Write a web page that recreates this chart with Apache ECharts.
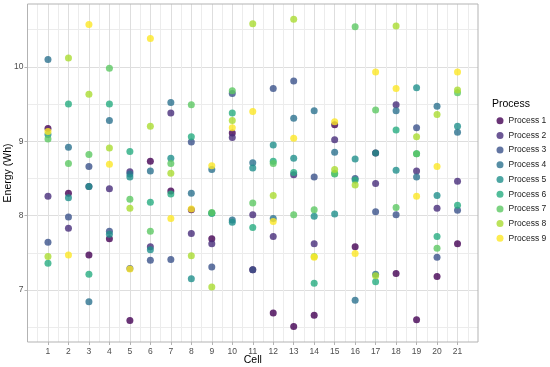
<!DOCTYPE html>
<html><head><meta charset="utf-8">
<script src="https://cdn.jsdelivr.net/npm/echarts@6/dist/echarts.min.js"></script>
<style>html,body{margin:0;padding:0;background:#fff}#c{width:550px;height:367px}</style>
</head><body><div id="c"></div>
<script>
// ---- data ----
const cells = [1,2,3,4,5,6,7,8,9,10,11,12,13,14,15,16,17,18,19,20,21];
const processNames = ['Process 1','Process 2','Process 3','Process 4','Process 5','Process 6','Process 7','Process 8','Process 9'];
const process1 = [9.17,8.30,7.47,7.69,6.59,8.73,8.33,8.08,7.69,9.11,7.27,6.69,6.51,6.66,9.22,7.58,8.84,7.22,6.60,7.18,7.62];
const process2 = [8.26,7.83,8.39,8.36,8.59,7.58,9.38,7.76,7.62,9.05,8.01,7.72,8.55,7.62,9.02,null,8.43,9.49,8.60,8.10,8.46];
const process3 = [7.64,7.98,8.66,7.79,7.29,7.40,7.41,8.99,7.31,9.64,7.27,9.71,9.81,8.52,null,8.50,8.05,8.01,9.18,7.44,8.07];
const process4 = [10.10,8.92,6.84,9.28,8.56,8.60,9.52,8.30,8.62,7.94,8.71,7.96,9.31,9.41,8.85,6.86,7.21,9.41,8.52,9.47,9.12];
const process5 = [9.09,8.24,8.39,7.75,8.52,7.54,8.77,7.15,8.03,7.91,8.64,8.95,8.77,7.99,8.02,8.76,8.84,8.61,9.72,8.27,9.20];
const process6 = [7.36,9.50,7.21,9.50,8.86,8.18,8.29,9.06,8.03,9.38,7.84,8.73,8.58,7.09,8.56,8.48,7.11,9.15,8.83,7.72,8.14];
const process7 = [9.03,8.70,8.82,9.98,8.22,7.79,8.70,9.49,8.04,9.68,8.17,8.70,8.01,8.08,8.57,10.54,9.42,8.11,8.83,7.56,9.65];
const process8 = [7.45,10.12,9.63,8.91,8.10,9.20,8.57,7.46,7.04,9.28,10.58,8.27,10.64,7.45,8.62,8.41,7.19,10.55,9.06,9.36,9.69];
const process9 = [9.13,7.47,10.57,8.69,7.28,10.38,7.96,8.09,8.67,9.18,9.40,7.92,9.04,7.44,9.26,7.49,9.93,9.71,8.26,8.66,9.93];
const yMajorTicks = ['7','8','9','10'];
const yMinorTicks = ['6.5','7.5','8.5','9.5','10.5'];
const xMinorTicks = ['0.5','1.5','2.5','3.5','4.5','5.5','6.5','7.5','8.5','9.5','10.5','11.5','12.5','13.5','14.5','15.5','16.5','17.5','18.5','19.5','20.5','21.5'];

// ---- layout ----
const colors = ['#440154','#472D7B','#3B528B','#2C728E','#21908C','#27AD81','#5DC863','#AADC32','#FDE725'];
const allSeries = [process1,process2,process3,process4,process5,process6,process7,process8,process9];
const W = 550, H = 367;
const PL = 27.5, PR = 478, PT = 4, PB = 342;
const XMIN = 0, XMAX = 22, YMIN = 6.30, YMAX = 10.845;
const px = v => PL + (v - XMIN) / (XMAX - XMIN) * (PR - PL);
const py = v => PT + (YMAX - v) / (YMAX - YMIN) * (PB - PT);
const FONT = '"Liberation Sans", Arial, sans-serif';
const GRID_MAJOR = '#dedede', GRID_MINOR = '#ececec', BORDER = '#b3b3b3', TXT = '#4d4d4d';

const hiddenVal = (gi) => ({type:'value', gridIndex: gi, min:0, max:1, show:false});

const chart = echarts.init(document.getElementById('c'), null, {renderer:'canvas'});
chart.setOption({
  animation: false,
  backgroundColor: '#fff',
  textStyle: {fontFamily: FONT},
  grid: [
    {left: PL, top: PT, width: PR - PL, height: PB - PT, show: true, borderColor: BORDER, borderWidth: 1, backgroundColor: 'transparent', z: 5},
    {left: px(1), top: PT, width: px(21) - px(1), height: PB - PT},
    {left: px(0.5), top: PT, width: px(21.5) - px(0.5), height: PB - PT},
    {left: PL, top: py(10), width: PR - PL, height: py(7) - py(10)},
    {left: PL, top: py(10.5), width: PR - PL, height: py(6.5) - py(10.5)}
  ],
  xAxis: [
    {type:'value', gridIndex:0, min:XMIN, max:XMAX, show:false},
    {type:'category', gridIndex:1, data: cells.map(String), boundaryGap:false, position:'bottom',
      axisLine:{show:false},
      axisTick:{show:true, interval:0, length:3, lineStyle:{color:BORDER, width:1}},
      axisLabel:{show:true, interval:0, margin:5, fontSize:8.5, color:TXT, fontFamily:FONT},
      splitLine:{show:true, interval:0, lineStyle:{color:GRID_MAJOR, width:1}}},
    {type:'category', gridIndex:2, data: xMinorTicks, boundaryGap:false,
      axisLine:{show:false}, axisTick:{show:false}, axisLabel:{show:false},
      splitLine:{show:true, interval:0, lineStyle:{color:GRID_MINOR, width:1}}},
    hiddenVal(3),
    hiddenVal(4)
  ],
  yAxis: [
    {type:'value', gridIndex:0, min:YMIN, max:YMAX, show:false},
    hiddenVal(1),
    hiddenVal(2),
    {type:'category', gridIndex:3, data: yMajorTicks, boundaryGap:false,
      axisLine:{show:false},
      axisTick:{show:true, interval:0, length:3, lineStyle:{color:BORDER, width:1}},
      axisLabel:{show:true, interval:0, margin:4, fontSize:8.5, color:TXT, fontFamily:FONT},
      splitLine:{show:true, interval:0, lineStyle:{color:GRID_MAJOR, width:1}}},
    {type:'category', gridIndex:4, data: yMinorTicks, boundaryGap:false,
      axisLine:{show:false}, axisTick:{show:false}, axisLabel:{show:false},
      splitLine:{show:true, interval:0, lineStyle:{color:GRID_MINOR, width:1}}}
  ],
  title: {text:'Process', left: 492, top: 99, padding: 0,
    textStyle:{fontSize:10.5, fontWeight:'normal', color:'#000', fontFamily:FONT}},
  legend: {
    orient:'vertical', left: 496.5, top: 115.7, padding: 0,
    itemWidth: 7, itemHeight: 7, itemGap: 4.7, itemTextGap: 8.5, icon:'circle',
    textStyle:{fontSize:8.5, lineHeight:10, color:'#1a1a1a', fontFamily:FONT},
    data: processNames
  },
  graphic: [
    {type:'text', x: (PL + PR) / 2, y: 360, style:{text:'Cell', font:'10.5px ' + FONT, fill:'#000', align:'center', verticalAlign:'middle'}},
    {type:'text', x: 8, y: (PT + PB) / 2, rotation: Math.PI / 2, style:{text:'Energy (Wh)', font:'10.5px ' + FONT, fill:'#000', align:'center', verticalAlign:'middle'}}
  ],
  series: allSeries.map((arr, k) => ({
    name: processNames[k], type:'scatter', xAxisIndex:0, yAxisIndex:0,
    symbolSize: 7, z: 10,
    itemStyle:{color: colors[k], opacity: 0.8},
    data: cells.map((c, i) => arr[i] == null ? null : [c, arr[i]]).filter(d => d)
  }))
});
</script></body></html>
